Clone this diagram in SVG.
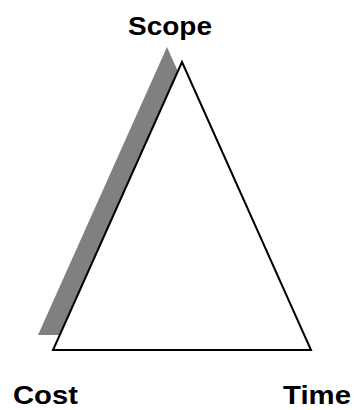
<svg xmlns="http://www.w3.org/2000/svg" width="354" height="410" viewBox="0 0 354 410">
  <style>
    .lbl { font-family: "Liberation Sans", Arial, sans-serif; font-weight: bold; font-size: 26px; fill: #000; }
  </style>
  <rect width="354" height="410" fill="#fff"/>
  <g id="triangle">
    <polygon points="167,47 38,335 296,335" fill="#808080"/>
    <polygon points="182,62 53,350 311,350" fill="#fff" stroke="#000" stroke-width="2" stroke-linejoin="miter"/>
  </g>
  <g id="scope"><text class="lbl" x="128" y="35" textLength="84" lengthAdjust="spacingAndGlyphs">Scope</text></g>
  <g id="cost"><text class="lbl" x="13" y="404" textLength="65" lengthAdjust="spacingAndGlyphs">Cost</text></g>
  <g id="time"><text class="lbl" x="283" y="404" textLength="68" lengthAdjust="spacingAndGlyphs">Time</text></g>
</svg>
